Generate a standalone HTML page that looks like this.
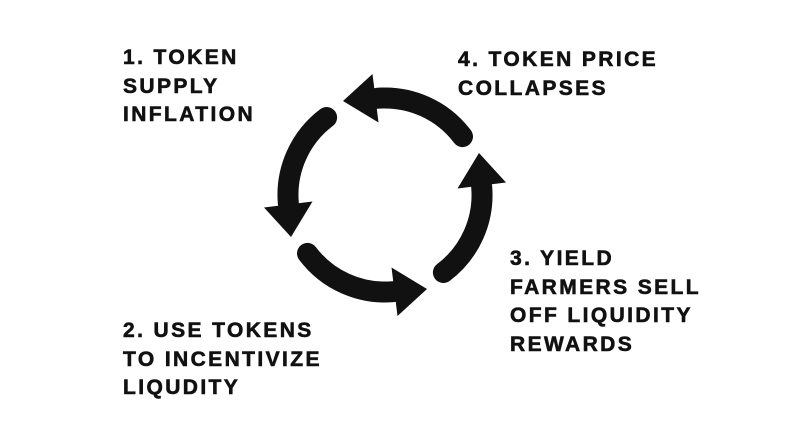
<!DOCTYPE html>
<html><head><style>
html,body{margin:0;padding:0;background:#fff;}
body{width:800px;height:444px;position:relative;overflow:hidden;}
.t{position:absolute;font-family:"Liberation Sans",sans-serif;font-weight:bold;font-size:21px;line-height:28.5px;letter-spacing:2.4px;color:#111;white-space:nowrap;-webkit-text-stroke:0.6px #111;}
svg{position:absolute;left:0;top:0;}
</style></head><body>
<div class="t" style="left:123px;top:44px">1. TOKEN<br>SUPPLY<br>INFLATION</div>
<div class="t" style="left:458px;top:46px">4. TOKEN PRICE<br>COLLAPSES</div>
<div class="t" style="left:510px;top:245px">3. YIELD<br>FARMERS SELL<br>OFF LIQUIDITY<br>REWARDS</div>
<div class="t" style="left:123px;top:317px">2. USE TOKENS<br>TO INCENTIVIZE<br>LIQUDITY</div>
<svg width="800" height="444">
<defs>
<g id="a">
<path d="M 77.5 -58.4 A 97 97 0 0 0 -8 -96.7" fill="none" stroke="#111" stroke-width="21" stroke-linecap="round"/>
<polygon points="-12.5,-121 -6.5,-72.5 -42,-94" fill="#111"/>
</g>
</defs>
<g transform="translate(385,195)">
<use href="#a"/>
<use href="#a" transform="rotate(-90)"/>
<use href="#a" transform="rotate(-180)"/>
<use href="#a" transform="rotate(-270)"/>
</g>
</svg>
</body></html>
